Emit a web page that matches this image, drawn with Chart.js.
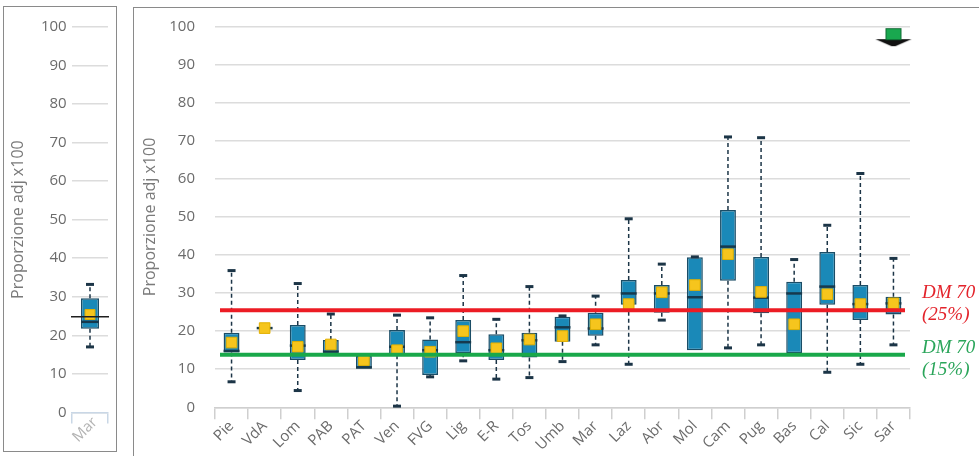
<!DOCTYPE html>
<html>
<head>
<meta charset="utf-8">
<script src="https://cdnjs.cloudflare.com/ajax/libs/Chart.js/4.4.1/chart.umd.min.js"></script>
<style>
  html, body { margin:0; padding:0; background:#fff; width:979px; height:456px; overflow:hidden; }
  #left { position:absolute; left:3px; top:6px; width:112px; height:444px; border:1px solid #8a8a8a; }
  #main { position:absolute; left:133px; top:7px; width:860px; height:460px; border-left:1px solid #8a8a8a; border-top:1px solid #8a8a8a; }
  canvas { position:absolute; left:0; top:0; }
</style>
</head>
<body>
<div id="left"><canvas id="leftChart" width="112" height="444"></canvas></div>
<div id="main"><canvas id="mainChart" width="845" height="448"></canvas></div>
<script>
// Regional box plots (proporzione adj x100).
const REGIONS  = ['Pie','VdA','Lom','PAB','PAT','Ven','FVG','Lig','E-R','Tos','Umb','Mar','Laz','Abr','Mol','Cam','Pug','Bas','Cal','Sic','Sar'];
const WHISK_HI = [35.9, null, 32.5, 24.5, null, 24.2, 23.5, 34.6, 23.1, 31.7, 24.0, 29.2, 49.5, 37.6, 39.5, 71.0, 70.8, 38.8, 47.8, 61.4, 39.1];
const Q3       = [19.6, 20.8, 21.6, 17.7, 13.5, 20.3, 17.8, 22.9, 19.2, 19.6, 23.8, 24.8, 33.4, 32.1, 39.4, 51.8, 39.5, 33.0, 40.8, 32.1, 29.0];
const MEDIAN   = [14.8, 20.8, 16.2, 14.6, 10.5, 15.9, 15.0, 17.1, 15.0, 17.6, 21.0, 20.7, 29.9, 29.9, 28.9, 42.2, 28.8, 29.9, 31.7, 27.1, 27.3];
const Q1       = [14.4, 20.8, 12.4, 14.4, 10.1, 13.7,  8.5, 14.2, 12.4, 13.1, 17.2, 18.8, 26.9, 24.8, 15.0, 33.2, 24.7, 14.2, 26.9, 22.9, 24.4];
const WHISK_LO = [ 6.7, null,  4.4, null, null,  0.3,  8.0, 12.2,  7.4,  7.8, 12.0, 16.4, 11.3, 22.9, null, 15.6, 16.4, null,  9.2, 11.3, 16.4];
const MEAN     = [17.0, 20.8, 15.9, 16.5, 12.4, 15.0, 14.6, 20.0, 15.5, 17.8, 18.7, 21.8, 27.1, 30.2, 32.1, 40.2, 30.3, 21.8, 29.7, 27.1, 27.3];

// DM 70 thresholds as drawn
const REF_VALUES = [25.5, 13.8];
const REF_LABELS = [['DM 70', '(25%)'], ['DM 70', '(15%)']];

// green arrow marker
const ARROW_REGION = 'Sar';
const ARROW_VALUE = 97.2;

// left panel: single region
const LEFT_CAT  = ['Mar'];
const LEFT_HI   = [33.2];
const LEFT_Q3   = [29.6];
const LEFT_MED  = [23.5];
const LEFT_Q1   = [21.7];
const LEFT_LO   = [17.0];
const LEFT_MEAN = [25.4];
const LEFT_REF  = 24.8;

const Y_TICKS = [0, 10, 20, 30, 40, 50, 60, 70, 80, 90, 100];

const FONT = {family:'"Open Sans", sans-serif', size:15};
const TITLE_FONT = {family:'"Open Sans", sans-serif', size:16};
const BOX_FILL = '#1a89b8', BOX_EDGE = '#1b4d66', WHISK = '#1c3547', MED = '#16394d';
const MEAN_FILL = '#f6c51d', MEAN_EDGE = '#e2b000';

// --- box extras: whiskers, caps, medians -----------------------------------
function boxPlugin(st, after){
  return {
    id:'boxes',
    afterDatasetDraw(chart, args){
      if(args.meta.type !== 'bar') return;
      const ctx = chart.ctx, y = chart.scales.y;
      ctx.save();
      args.meta.data.forEach((bar, i)=>{
        const x = bar.x, hw = bar.width/2;
        [[st.hi[i], st.q3[i]], [st.lo[i], st.q1[i]]].forEach(([w, q])=>{
          if(w == null) return;
          const yw = y.getPixelForValue(w), yq = y.getPixelForValue(q);
          ctx.strokeStyle = WHISK;
          ctx.setLineDash([4,3]); ctx.lineWidth = 1.5;
          ctx.beginPath(); ctx.moveTo(x, yq); ctx.lineTo(x, yw); ctx.stroke();
          ctx.setLineDash([]); ctx.lineWidth = 3;
          ctx.beginPath(); ctx.moveTo(x-4, yw); ctx.lineTo(x+4, yw); ctx.stroke();
        });
        const ym = y.getPixelForValue(st.med[i]);
        ctx.lineWidth = 2.5; ctx.strokeStyle = MED;
        ctx.beginPath(); ctx.moveTo(x-hw, ym); ctx.lineTo(x+hw, ym); ctx.stroke();
      });
      ctx.restore();
    },
    afterDatasetsDraw(chart){ if(after) after(chart); }
  };
}

function yScale(width, pad, titlePad){
  return {
    min:0, max:100,
    afterBuildTicks: s=>{ s.ticks = Y_TICKS.map(v=>({value:v})); },
    ticks:{padding:pad, color:'#6b6b6b', font:FONT},
    grid:{drawTicks:false, color:'#dcdcdc', lineWidth:1.5},
    border:{display:false},
    title:{display:true, text:'Proporzione adj x100', color:'#7a7a7a', font:TITLE_FONT, padding:{top:titlePad, bottom:0}},
    // fixed axis width; the tick padding must not push the plot area down
    afterFit: s=>{ s.width = width; s.paddingTop = 0; s.paddingBottom = 0; }
  };
}

// --- main chart -----------------------------------------------------------
function arrowIcon(){
  const c = document.createElement('canvas');
  c.width = 38; c.height = 20;
  const g = c.getContext('2d');
  g.fillStyle = '#111';
  g.beginPath(); g.moveTo(1,12); g.lineTo(37,12); g.lineTo(21,19); g.lineTo(17,19); g.closePath(); g.fill();
  g.fillStyle = '#19a84f'; g.strokeStyle = '#0f6a33'; g.lineWidth = 1;
  g.fillRect(11,1,16,12); g.strokeRect(11.5,1.5,15,11);
  return c;
}

function drawRefs(chart){
  const ctx = chart.ctx, y = chart.scales.y, a = chart.chartArea;
  const colors = ['#ec1c24', '#19a84a'];
  const textColors = ['#e3232b', '#2aa55a'];
  const offs = [[-17, 5], [-7, 15]];
  ctx.save();
  REF_VALUES.forEach((v, k)=>{
    const py = y.getPixelForValue(v);
    ctx.strokeStyle = colors[k]; ctx.lineWidth = 4;
    ctx.beginPath(); ctx.moveTo(a.left+5, py); ctx.lineTo(a.right-5, py); ctx.stroke();
    ctx.fillStyle = textColors[k];
    ctx.font = 'italic 19px "Liberation Serif", serif';
    ctx.textAlign = 'left'; ctx.textBaseline = 'middle';
    REF_LABELS[k].forEach((t, j)=> ctx.fillText(t, a.right+12, py+offs[k][j]));
  });
  ctx.restore();
}

new Chart(document.getElementById('mainChart'), {
  type:'bar',
  data:{
    labels:REGIONS,
    datasets:[
      {type:'line', data:MEAN, showLine:false, pointStyle:'rect', pointRadius:7.5,
       pointBackgroundColor:MEAN_FILL, pointBorderColor:MEAN_EDGE, pointBorderWidth:1},
      {type:'line', data:REGIONS.map(r=> r===ARROW_REGION ? ARROW_VALUE : null), showLine:false,
       pointStyle:arrowIcon()},
      {type:'bar', data:REGIONS.map((r,i)=>[Q1[i], Q3[i]]), backgroundColor:BOX_FILL,
       borderColor:BOX_EDGE, borderWidth:1.5, borderSkipped:false, barPercentage:0.48, categoryPercentage:1}
    ]
  },
  options:{
    responsive:false, animation:false, events:[],
    layout:{autoPadding:false, padding:{top:18.5, right:69, left:0, bottom:0}},
    plugins:{legend:{display:false}, tooltip:{enabled:false}},
    scales:{
      x:{
        offset:true,
        grid:{offset:true, drawOnChartArea:false, tickLength:12, color:'#cfcfcf', lineWidth:1.5},
        border:{color:'#cfcfcf', width:1.5},
        ticks:{autoSkip:false, minRotation:45, maxRotation:45, padding:-2, color:'#6b6b6b', font:FONT},
        afterFit: s=>{ s.height = 48.7; }
      },
      y:yScale(81, 20, 6.4)
    }
  },
  plugins:[boxPlugin({hi:WHISK_HI, q3:Q3, med:MEDIAN, q1:Q1, lo:WHISK_LO}, drawRefs)]
});

// --- left chart -----------------------------------------------------------
function drawLeftRef(chart){
  const ctx = chart.ctx, a = chart.chartArea, py = chart.scales.y.getPixelForValue(LEFT_REF);
  ctx.save();
  ctx.strokeStyle = '#1e1e1e'; ctx.lineWidth = 1.5;
  ctx.beginPath(); ctx.moveTo(a.left-1, py); ctx.lineTo(a.right+1, py); ctx.stroke();
  ctx.restore();
}

new Chart(document.getElementById('leftChart'), {
  type:'bar',
  data:{
    labels:LEFT_CAT,
    datasets:[
      {type:'line', data:LEFT_MEAN, showLine:false, pointStyle:'rect', pointRadius:7,
       pointBackgroundColor:MEAN_FILL, pointBorderColor:MEAN_EDGE, pointBorderWidth:1},
      {type:'bar', data:LEFT_CAT.map((c,i)=>[LEFT_Q1[i], LEFT_Q3[i]]), backgroundColor:BOX_FILL,
       borderColor:BOX_EDGE, borderWidth:1.5, borderSkipped:false, barPercentage:0.5, categoryPercentage:1}
    ]
  },
  options:{
    responsive:false, animation:false, events:[],
    layout:{autoPadding:false, padding:{top:19.7, right:8, left:0, bottom:0}},
    plugins:{legend:{display:false}, tooltip:{enabled:false}},
    scales:{
      x:{
        offset:true,
        grid:{offset:true, drawOnChartArea:false, tickLength:11, color:'#c9d7e6', lineWidth:1.5},
        border:{color:'#c9d7e6', width:1.5},
        ticks:{autoSkip:false, minRotation:45, maxRotation:45, padding:-10, labelOffset:5, color:'#b3b3b3', font:FONT},
        afterFit: s=>{ s.height = 38.5; }
      },
      y:yScale(68, 5.3, 4.7)
    }
  },
  plugins:[boxPlugin({hi:LEFT_HI, q3:LEFT_Q3, med:LEFT_MED, q1:LEFT_Q1, lo:LEFT_LO}, drawLeftRef)]
});
</script>
</body>
</html>
